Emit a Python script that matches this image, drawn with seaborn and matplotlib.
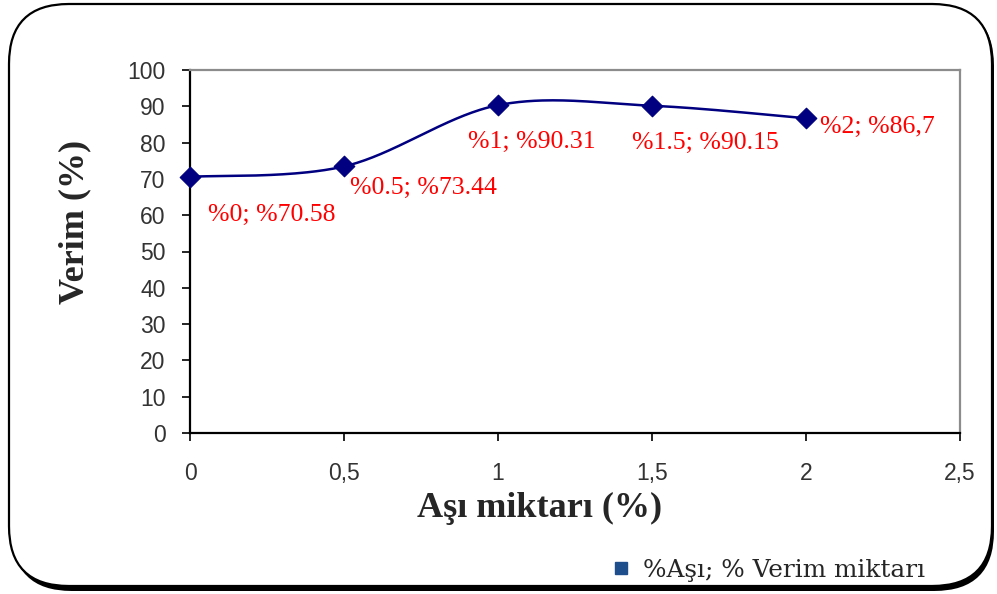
import numpy as np
import pandas as pd
import matplotlib
matplotlib.use("Agg")
import matplotlib.pyplot as plt
from matplotlib.patches import FancyBboxPatch
from matplotlib.lines import Line2D
import seaborn as sns

# Inoculum amount (%) and yield (%)
asi = [0.0, 0.5, 1.0, 1.5, 2.0]
verim = [70.58, 73.44, 90.31, 90.15, 86.7]
etiketler = ["%0; %70.58", "%0.5; %73.44", "%1; %90.31", "%1.5; %90.15", "%2; %86,7"]
x_ticks = [0, 0.5, 1, 1.5, 2, 2.5]
x_ticklabels = ["0", "0,5", "1", "1,5", "2", "2,5"]
y_ticks = list(range(0, 101, 10))

sns.set_theme(style="white")
plt.rcParams["font.family"] = ["Liberation Sans", "DejaVu Sans"]

NAVY = "#000080"
SERIF = ["Liberation Serif", "DejaVu Serif"]


def smooth_curve(xs, ys, n=60):
    """Catmull-Rom (cubic Bezier) smoothing through the points."""
    pts = np.column_stack([xs, ys]).astype(float)
    ext = np.vstack([pts[0], pts, pts[-1]])
    out = []
    t = np.linspace(0, 1, n)[:, None]
    for i in range(len(pts) - 1):
        p0, p1, p2, p3 = ext[i], ext[i + 1], ext[i + 2], ext[i + 3]
        c1 = p1 + (p2 - p0) / 6.0
        c2 = p2 - (p3 - p1) / 6.0
        seg = ((1 - t) ** 3) * p1 + 3 * ((1 - t) ** 2) * t * c1 + 3 * (1 - t) * t ** 2 * c2 + t ** 3 * p2
        out.append(seg if i == 0 else seg[1:])
    out = np.vstack(out)
    return out[:, 0], out[:, 1]


fig = plt.figure(figsize=(9.97, 5.94), dpi=100)
fig.patch.set_facecolor("white")

# rounded frame with a drop shadow
W, H = 997, 594
shadow = FancyBboxPatch((12 / W, 1 - 591 / H), 982 / W, 585 / H,
                        boxstyle="round,pad=0,rounding_size=0.06",
                        transform=fig.transFigure, facecolor="black",
                        edgecolor="black", lw=0, zorder=-2,
                        mutation_aspect=W / H)
fig.patches.append(shadow)
frame = FancyBboxPatch((9 / W, 1 - 586 / H), 983 / W, 582 / H,
                       boxstyle="round,pad=0,rounding_size=0.06",
                       transform=fig.transFigure, facecolor="white",
                       edgecolor="black", lw=1.6, zorder=-1,
                       mutation_aspect=W / H)
fig.patches.append(frame)

ax = fig.add_axes([190 / W, 1 - 433 / H, 770 / W, 363 / H])
ax.set_zorder(2)
ax.patch.set_alpha(0)

sx, sy = smooth_curve(asi, verim)
curve = pd.DataFrame({"x": sx, "y": sy})
sns.lineplot(data=curve, x="x", y="y", ax=ax, color=NAVY, lw=1.8, sort=False,
             estimator=None, zorder=3)
pts = pd.DataFrame({"asi": asi, "verim": verim})
sns.scatterplot(data=pts, x="asi", y="verim", ax=ax, marker="D", s=110,
                color=NAVY, edgecolor=NAVY, zorder=4, clip_on=False)

offsets = [(18, -38), (6, -22), (-30, -37), (-20, -37), (14, -9)]
for xv, yv, lab, (dx, dy) in zip(asi, verim, etiketler, offsets):
    ax.annotate(lab, (xv, yv), xytext=(dx, dy), textcoords="offset pixels",
                ha="left", va="center", color="#ff0000", fontsize=18.5,
                family=SERIF)

ax.set_xlim(0, 2.5)
ax.set_ylim(0, 100)
ax.set_xticks(x_ticks)
ax.set_xticklabels(x_ticklabels)
ax.set_yticks(y_ticks)

for side in ["left", "bottom"]:
    ax.spines[side].set_color("black")
    ax.spines[side].set_linewidth(1.6)
for side in ["top", "right"]:
    ax.spines[side].set_color("#8c8c8c")
    ax.spines[side].set_linewidth(1.6)

ax.tick_params(axis="y", direction="out", length=5.5, width=1.2, color="black",
               pad=12, labelsize=16.5, labelcolor="#333333", left=True)
ax.tick_params(axis="x", direction="out", length=6, width=1.2, color="black",
               pad=15, labelsize=16.5, labelcolor="#333333", bottom=True)

ax.set_xlabel("")
ax.set_ylabel("")
fig.text(75 / W, 1 - 222 / H, "Verim (%)", rotation=90, ha="center", va="center",
         fontsize=26, fontweight="bold", family=SERIF)
fig.text(540 / W, 1 - 508 / H, "Aşı miktarı (%)", ha="center", va="center",
         fontsize=26, fontweight="bold", family=SERIF)

handle = Line2D([], [], marker="s", linestyle="none", color="#1f4e8c",
                markersize=8)
fig.legend([handle], ["%Aşı; % Verim miktarı"], loc="center left",
           bbox_to_anchor=(584 / W, 1 - 570 / H), frameon=False,
           handletextpad=0.3, handlelength=1.2,
           prop={"family": ["DejaVu Serif"], "size": 17.8})

fig.savefig("out.png", dpi=100, facecolor="white")
